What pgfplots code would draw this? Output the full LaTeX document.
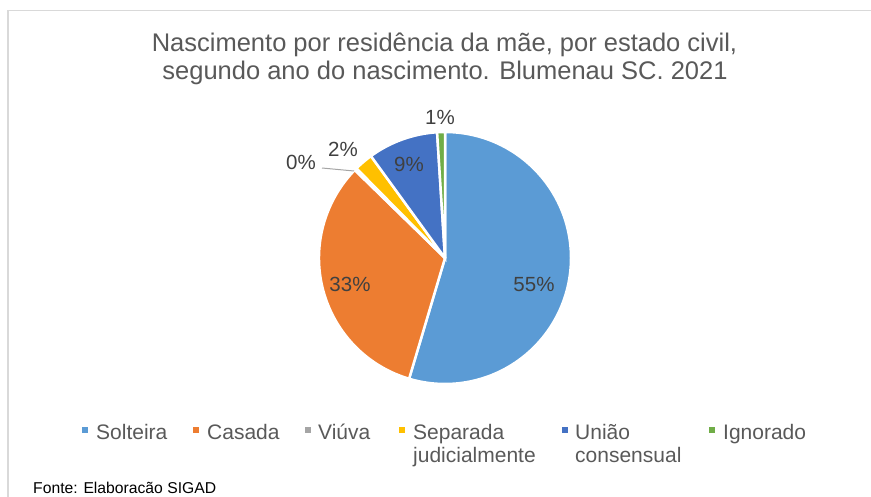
\documentclass[border=0pt]{standalone}
\usepackage{pgfplots}
\pgfplotsset{compat=1.18}
\usepackage{fontspec}
\setmainfont{Liberation Sans}
\usetikzlibrary{calc}
\definecolor{cSol}{HTML}{5B9BD5}
\definecolor{cCas}{HTML}{ED7D31}
\definecolor{cViu}{HTML}{A5A5A5}
\definecolor{cSep}{HTML}{FFC000}
\definecolor{cUni}{HTML}{4472C4}
\definecolor{cIgn}{HTML}{70AD47}
\definecolor{txt}{HTML}{595959}
\definecolor{lbl}{HTML}{404040}
\definecolor{frame}{HTML}{D9D9D9}
% shares (percent): Solteira 54.6, Casada 32.7, Viuva 0.3, Separada 2.4, Uniao 9.0, Ignorado 1.0
\newcommand{\slice}[3]{% color, cumulative start, value
  \addplot[fill=#1, draw=white, line width=2.5pt] coordinates {(0,0)}
    -- ($(axis cs:0,0)+({90-3.6*(#2)}:126pt)$)
    arc[start angle={90-3.6*(#2)}, delta angle={-3.6*(#3)}, radius=126pt] -- cycle;}
\begin{document}
\begin{tikzpicture}
\path[use as bounding box] (0pt,0pt) rectangle (871pt,-497pt);
\draw[frame, line width=1.5pt] (8pt,-497pt) -- (8pt,-10.5pt) -- (871pt,-10.5pt);
% title
\node[anchor=base, text=txt, font=\fontsize{25.5}{29}\selectfont, inner sep=0pt] at (444.5pt,-52pt) {Nascimento por residência da mãe, por estado civil,};
\node[anchor=base, text=txt, font=\fontsize{25.5}{29}\selectfont, inner sep=0pt] at (445pt,-80pt) {segundo ano do nascimento. Blumenau SC. 2021};
\begin{axis}[at={(445pt,-258pt)}, anchor=center, x=126pt, y=126pt,
  xmin=-1.1, xmax=1.1, ymin=-1.1, ymax=1.1, hide axis, clip=false]
\slice{cSol}{0}{54.6}
\slice{cCas}{54.6}{32.7}
\slice{cViu}{87.3}{0.3}
\slice{cSep}{87.6}{2.4}
\slice{cUni}{90.0}{9.0}
\slice{cIgn}{99.0}{1.0}
\end{axis}
% data labels
\begin{scope}[every node/.style={anchor=base, text=lbl, font=\fontsize{20.5}{24}\selectfont, inner sep=0pt}]
\node at (534pt,-292pt) {55\%};
\node at (350pt,-292pt) {33\%};
\node at (409pt,-172pt) {9\%};
\node at (343pt,-157pt) {2\%};
\node at (301pt,-170pt) {0\%};
\node at (440pt,-125pt) {1\%};
\end{scope}
\draw[cViu, line width=1pt] (322pt,-168pt) -- (354pt,-171pt);
% legend
\begin{scope}[every node/.style={anchor=base west, text=txt, font=\fontsize{21}{23.5}\selectfont, inner sep=0pt, align=left}]
\fill[cSol] (82pt,-427pt) rectangle (88pt,-433pt);
\node at (96pt,-439pt) {Solteira};
\fill[cCas] (193pt,-427pt) rectangle (199pt,-433pt);
\node at (207pt,-439pt) {Casada};
\fill[cViu] (305pt,-427pt) rectangle (311pt,-433pt);
\node at (318pt,-439pt) {Viúva};
\fill[cSep] (399pt,-427pt) rectangle (405pt,-433pt);
\node at (413pt,-439pt) {Separada};
\node at (413pt,-462pt) {judicialmente};
\fill[cUni] (562pt,-427pt) rectangle (568pt,-433pt);
\node at (575pt,-439pt) {União};
\node at (575pt,-462pt) {consensual};
\fill[cIgn] (709pt,-427pt) rectangle (715pt,-433pt);
\node at (723pt,-439pt) {Ignorado};
\end{scope}
\node[anchor=base west, font=\fontsize{15.7}{18}\selectfont, inner sep=0pt] at (33pt,-493pt) {Fonte: Elaboracão SIGAD};
\end{tikzpicture}
\end{document}
